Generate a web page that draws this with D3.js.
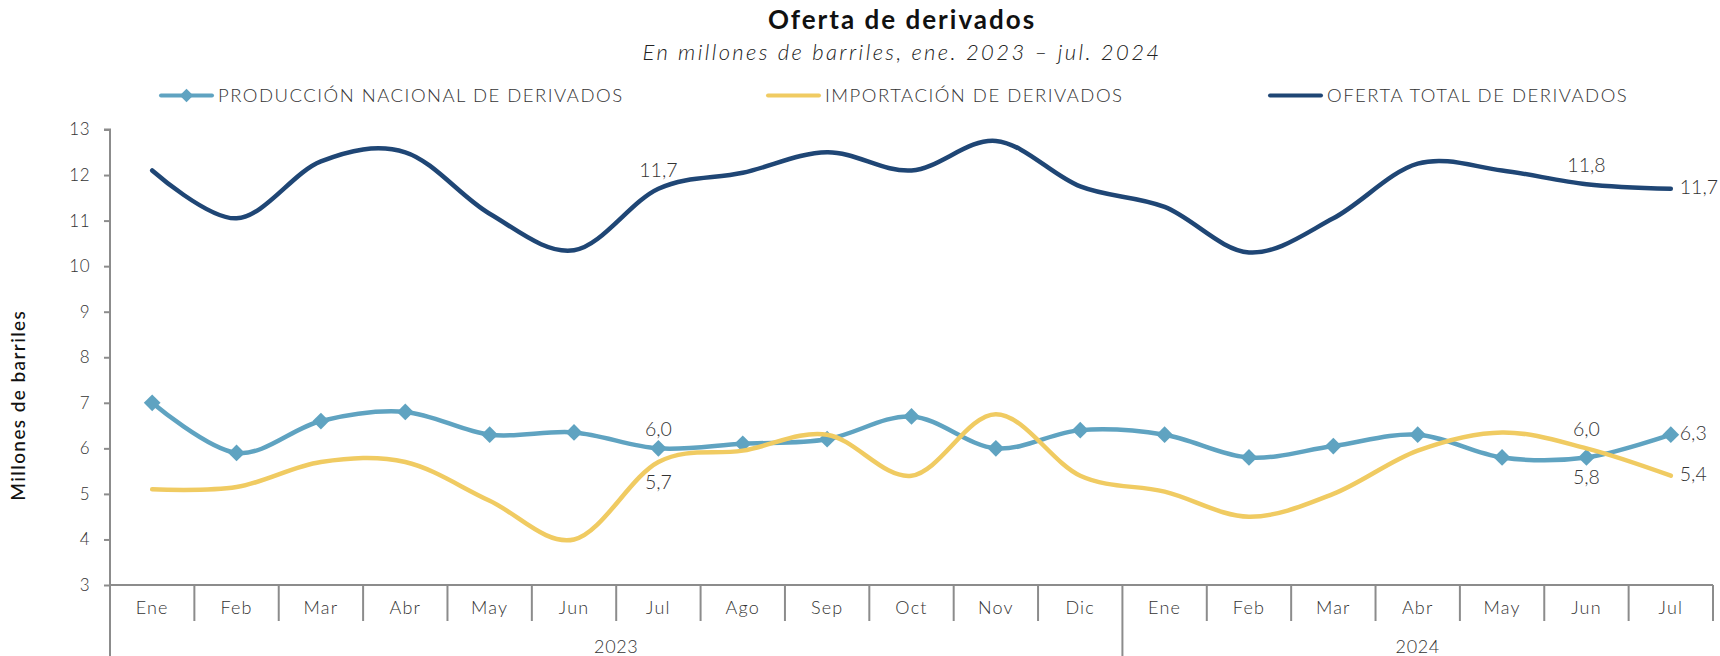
<!DOCTYPE html>
<html>
<head>
<meta charset="utf-8">
<script src="https://cdn.jsdelivr.net/npm/d3@7.9.0/dist/d3.min.js"></script>
<style>
  body { margin: 0; background: #fff; }
  svg { display: block; }
  text { font-family: Lato, 'Noto Sans', sans-serif; fill: #333; }
</style>
</head>
<body>
<svg id="chart" width="1720" height="656"></svg>
<script>
// categories
const months = ['Ene', 'Feb', 'Mar', 'Abr', 'May', 'Jun', 'Jul', 'Ago', 'Sep', 'Oct', 'Nov', 'Dic',
                'Ene', 'Feb', 'Mar', 'Abr', 'May', 'Jun', 'Jul'];
const monthYears = ['2023', '2023', '2023', '2023', '2023', '2023', '2023', '2023', '2023', '2023', '2023', '2023',
                    '2024', '2024', '2024', '2024', '2024', '2024', '2024'];

// series (millones de barriles)
const produccion = [7.0, 5.9, 6.6, 6.8, 6.3, 6.35, 6.0, 6.1, 6.2, 6.7, 6.0, 6.4, 6.3, 5.8, 6.05, 6.3, 5.8, 5.8, 6.3];
const importacion = [5.1, 5.15, 5.7, 5.7, 4.85, 4.0, 5.7, 5.95, 6.3, 5.4, 6.75, 5.4, 5.05, 4.5, 5.0, 5.95, 6.35, 6.0, 5.4];
const ofertaTotal = [12.1, 11.05, 12.3, 12.5, 11.15, 10.35, 11.7, 12.05, 12.5, 12.1, 12.75, 11.75, 11.3, 10.3, 11.05, 12.25, 12.1, 11.8, 11.7];

const yTicks = [3, 4, 5, 6, 7, 8, 9, 10, 11, 12, 13];

const series = [
  { name: 'PRODUCCIÓN NACIONAL DE DERIVADOS', values: produccion, color: '#5fa3c1', marker: true },
  { name: 'IMPORTACIÓN DE DERIVADOS', values: importacion, color: '#f0cb62', marker: false },
  { name: 'OFERTA TOTAL DE DERIVADOS', values: ofertaTotal, color: '#1f4675', marker: false }
];

// which points carry a data label, and where
const dataLabels = [
  { s: 2, i: 6, pos: 'above' },
  { s: 2, i: 17, pos: 'above' },
  { s: 2, i: 18, pos: 'right' },
  { s: 0, i: 6, pos: 'above' },
  { s: 1, i: 6, pos: 'below' },
  { s: 1, i: 17, pos: 'above' },
  { s: 0, i: 17, pos: 'below' },
  { s: 0, i: 18, pos: 'right' },
  { s: 1, i: 18, pos: 'right' }
];

const svg = d3.select('#chart');
const margin = { left: 110, right: 7, top: 129.5, bottom: 71 };
const W = 1720, H = 656;

const x = d3.scaleBand().domain(d3.range(months.length)).range([margin.left, W - margin.right]);
const y = d3.scaleLinear().domain([3, 13]).range([H - margin.bottom, margin.top]);
const cx = (i) => x(i) + x.bandwidth() / 2;
const axisColor = '#8c8c8c';
const fmt = (v) => d3.format('.1f')(v).replace('.', ',');

// title
svg.append('text').attr('x', 902).attr('y', 29).attr('text-anchor', 'middle')
  .style('font-size', '26px').style('font-weight', 700).style('fill', '#111').style('letter-spacing', '2px')
  .text('Oferta de derivados');
svg.append('text').attr('x', 902).attr('y', 60).attr('text-anchor', 'middle')
  .style('font-size', '22px').style('font-style', 'italic').style('font-weight', 300).style('fill', '#222')
  .style('letter-spacing', '2.4px')
  .text('En millones de barriles, ene. 2023 – jul. 2024');

// legend
const legendX = [161, 768, 1270];
series.forEach((s, k) => {
  const g = svg.append('g').attr('transform', `translate(${legendX[k]},95.5)`);
  g.append('line').attr('x1', 0).attr('x2', 51).attr('stroke', s.color).attr('stroke-width', 4).attr('stroke-linecap', 'round');
  if (s.marker) {
    g.append('path').attr('d', d3.symbol(d3.symbolSquare, 90)()).attr('transform', 'translate(25.5,0) rotate(45)').attr('fill', s.color);
  }
  g.append('text').attr('x', 57).attr('dy', '0.35em').style('font-size', '18.5px').style('font-weight', 300)
    .style('letter-spacing', '1.5px')
    .text(s.name);
});

// y axis
const yAxis = svg.append('g').attr('transform', `translate(${margin.left},0)`)
  .call(d3.axisLeft(y).tickValues(yTicks).tickSize(6).tickPadding(14).tickFormat(d3.format('d')));
yAxis.selectAll('path, line').attr('stroke', axisColor).attr('stroke-width', 2);
yAxis.selectAll('text').style('font-size', '17px').style('font-weight', 300).style('fill', '#333')
  .style('font-family', 'Lato, sans-serif').style('letter-spacing', '0.5px');
yAxis.select('.domain').attr('d', `M-6,${y(13)}H0V${H}`);

svg.append('text')
  .attr('transform', `translate(25,${(y(3) + y(13)) / 2 + 48}) rotate(-90)`)
  .attr('text-anchor', 'middle').style('font-size', '19px').style('font-weight', 500).style('fill', '#111')
  .style('letter-spacing', '1.4px')
  .text('Millones de barriles');

// x axis: baseline, separators, month and year labels
const baseY = y(3);
svg.append('line').attr('x1', margin.left).attr('x2', W - margin.right).attr('y1', baseY).attr('y2', baseY)
  .attr('stroke', axisColor).attr('stroke-width', 2);

const yearGroups = d3.groups(d3.range(months.length), (i) => monthYears[i]);
const yearStarts = yearGroups.map(([, idx]) => idx[0]);

svg.append('g').selectAll('line').data(d3.range(1, months.length + 1)).join('line')
  .attr('x1', (i) => (i < months.length ? x(i) : x.range()[1]))
  .attr('x2', (i) => (i < months.length ? x(i) : x.range()[1]))
  .attr('y1', baseY)
  .attr('y2', (i) => (yearStarts.includes(i) ? H : baseY + 36))
  .attr('stroke', axisColor).attr('stroke-width', 2);

svg.append('g').selectAll('text').data(months).join('text')
  .attr('x', (d, i) => cx(i)).attr('y', baseY + 23).attr('dy', '0.35em').attr('text-anchor', 'middle')
  .style('font-size', '18px').style('font-weight', 300).style('letter-spacing', '1.2px')
  .text((d) => d);

svg.append('g').selectAll('text').data(yearGroups).join('text')
  .attr('x', ([, idx]) => (x(idx[0]) + x(idx[idx.length - 1]) + x.bandwidth()) / 2)
  .attr('y', baseY + 62).attr('dy', '0.35em').attr('text-anchor', 'middle')
  .style('font-size', '18px').style('font-weight', 300).style('letter-spacing', '0.6px')
  .text(([yr]) => yr);

// lines
const line = d3.line().x((d, i) => cx(i)).y((d) => y(d)).curve(d3.curveCardinal.tension(0));

series.forEach((s) => {
  svg.append('path').datum(s.values).attr('d', line)
    .attr('fill', 'none').attr('stroke', s.color).attr('stroke-width', 4.5).attr('stroke-linecap', 'round');
  if (s.marker) {
    svg.append('g').selectAll('path').data(s.values).join('path')
      .attr('d', d3.symbol(d3.symbolSquare, 140)())
      .attr('transform', (d, i) => `translate(${cx(i)},${y(d)}) rotate(45)`)
      .attr('fill', s.color);
  }
});

// data labels
svg.append('g').selectAll('text').data(dataLabels).join('text')
  .attr('x', (d) => cx(d.i) + (d.pos === 'right' ? 9 : 0))
  .attr('y', (d) => {
    const py = y(series[d.s].values[d.i]);
    if (d.pos === 'above') return py - 19;
    if (d.pos === 'below') return py + 20;
    return py - 2;
  })
  .attr('dy', '0.35em')
  .attr('text-anchor', (d) => (d.pos === 'right' ? 'start' : 'middle'))
  .style('font-size', '19.5px').style('font-weight', 300).style('fill', '#333')
  .text((d) => fmt(series[d.s].values[d.i]));
</script>
</body>
</html>
